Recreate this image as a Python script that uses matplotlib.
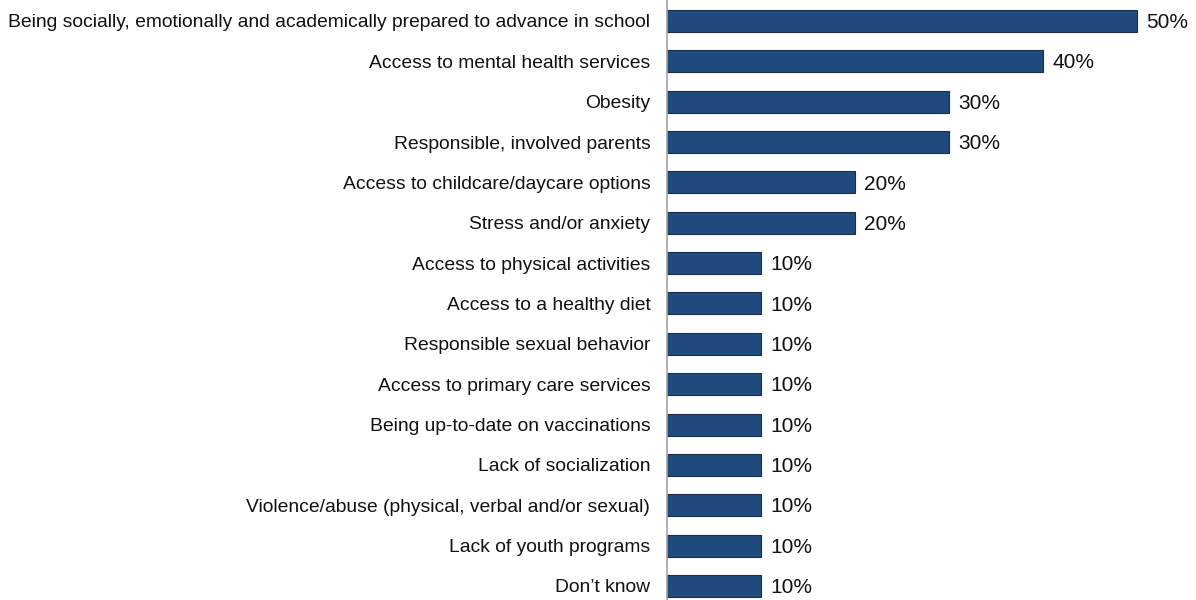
import matplotlib.pyplot as plt

plt.rcParams['font.family'] = ['Liberation Sans', 'DejaVu Sans']

categories = [
    "Being socially, emotionally and academically prepared to advance in school",
    "Access to mental health services",
    "Obesity",
    "Responsible, involved parents",
    "Access to childcare/daycare options",
    "Stress and/or anxiety",
    "Access to physical activities",
    "Access to a healthy diet",
    "Responsible sexual behavior",
    "Access to primary care services",
    "Being up-to-date on vaccinations",
    "Lack of socialization",
    "Violence/abuse (physical, verbal and/or sexual)",
    "Lack of youth programs",
    "Don\u2019t know",
]
values = [0.50, 0.40, 0.30, 0.30, 0.20, 0.20, 0.10, 0.10, 0.10, 0.10, 0.10, 0.10, 0.10, 0.10, 0.10]

fig = plt.figure(figsize=(11.96, 6.0), dpi=100)
ax = fig.add_axes([667 / 1196, 0, 529 / 1196, 1])

ypos = list(range(len(categories)))
ax.barh(ypos, values, height=0.545, color="#204A7E", edgecolor="#1A2F4A", linewidth=0.8)

for y, v in zip(ypos, values):
    ax.text(v + 0.010, y + 0.04, f"{v:.0%}", va="center", ha="left", fontsize=15, color="#111111")

ax.set_xlim(0, 529 / 940)
ax.set_ylim(14.347, -0.52)
ax.set_yticks(ypos)
ax.set_yticklabels(categories, fontsize=13.9, color="#111111")
ax.tick_params(axis="y", length=0, pad=12)
ax.set_xticks([])

for s in ["top", "right", "bottom"]:
    ax.spines[s].set_visible(False)
ax.spines["left"].set_color("#A6A6A6")
ax.spines["left"].set_linewidth(1.2)

fig.savefig("out.png", dpi=100)
